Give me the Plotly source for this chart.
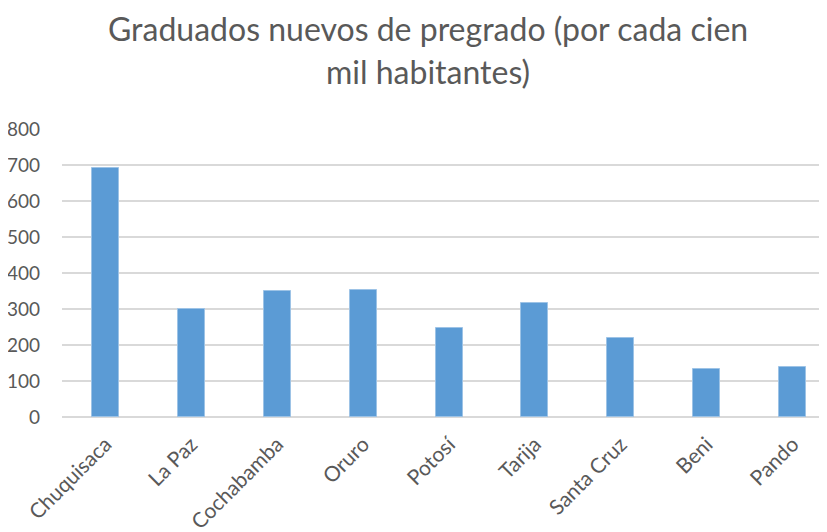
import plotly.graph_objects as go

departamentos = ["Chuquisaca", "La Paz", "Cochabamba", "Oruro", "Potosí",
                 "Tarija", "Santa Cruz", "Beni", "Pando"]
graduados = [691, 300, 349, 353, 247, 316, 219, 134, 140]
y_ticks = [0, 100, 200, 300, 400, 500, 600, 700, 800]
titulo = ["Graduados nuevos de pregrado (por cada cien", "mil habitantes)"]

fig = go.Figure(go.Bar(
    x=departamentos, y=graduados,
    marker=dict(color="#5B9BD5", line=dict(color="#9DC3E6", width=1)),
    width=0.314,
))

# page coordinates (the page body adds an 8px offset)
top_px, bot_px = 128.7, 416.7
def paper_y(px):
    return (bot_px - px) / (bot_px - top_px)

for line, py in zip(titulo, [28, 71]):
    fig.add_annotation(
        text=line, xref="paper", yref="paper", x=(428 - 62) / 765, y=paper_y(py),
        xanchor="center", yanchor="middle", showarrow=False,
        font=dict(family="Lato", size=32, color="#595959"),
    )

fig.update_layout(
    width=819, height=524,
    margin=dict(l=54, r=0, t=120.7, b=115.3),
    paper_bgcolor="white", plot_bgcolor="white",
    font=dict(family="Lato", color="#595959"),
    showlegend=False,
    bargap=0,
)
fig.update_xaxes(
    range=[-0.506, 8.40], tickangle=-45, showgrid=False, showline=False,
    tickfont=dict(size=21, color="#595959"), ticks="", automargin=False,
    ticklabelstandoff=10,
)
fig.update_yaxes(
    range=[0, 800], tickvals=y_ticks, showgrid=True, gridcolor="#D9D9D9",
    gridwidth=1.5, zeroline=True, zerolinecolor="#D9D9D9", zerolinewidth=1.5,
    tickfont=dict(size=19, color="#595959"), ticks="", ticklabelstandoff=21,
    automargin=False,
)

fig.write_html("out.html")
